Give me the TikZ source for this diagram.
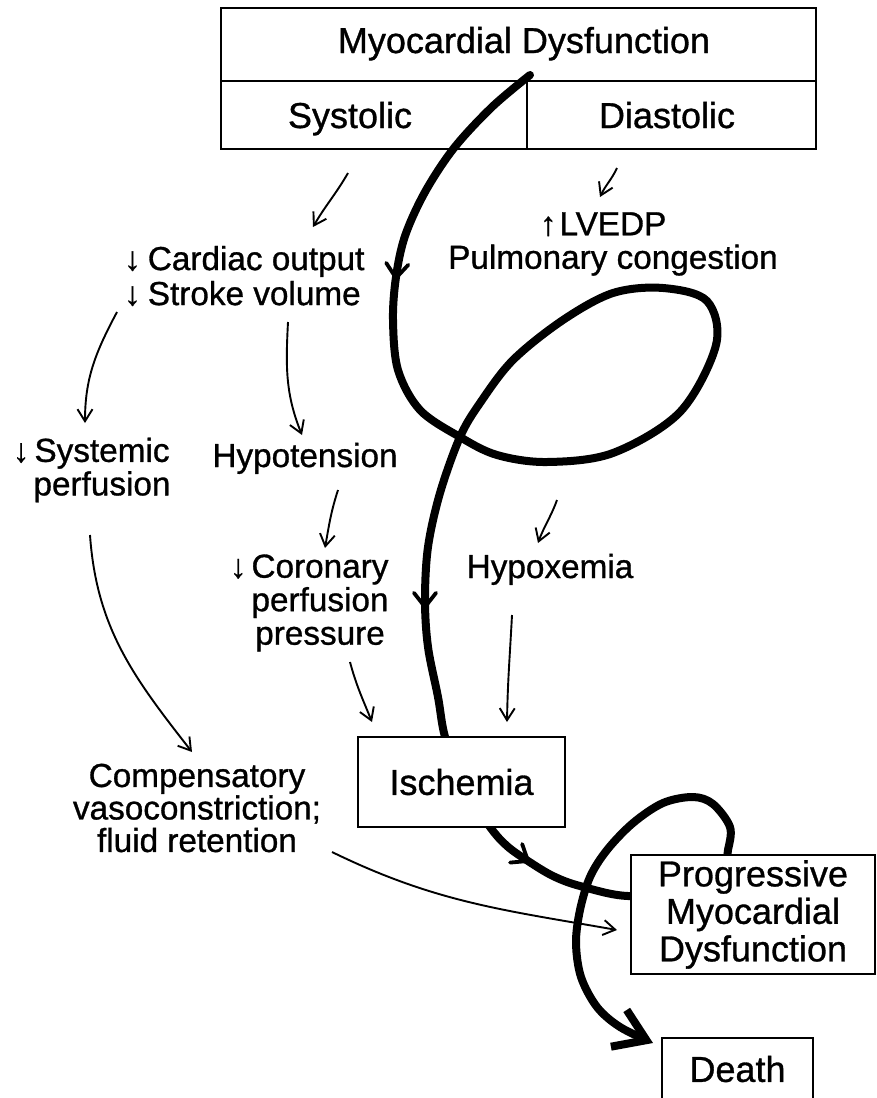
\documentclass[tikz,border=0pt]{standalone}
\usepackage{fontspec}
\setmainfont{Liberation Sans}[FakeBold=0.9]
\usetikzlibrary{arrows.meta}
\begin{document}
\begin{tikzpicture}[x=1pt,y=1pt,
  boxline/.style={line width=2.2pt},
  boxst/.style={draw, line width=2.2pt, inner sep=0pt, fill=white, align=center,
    font=\fontsize{36}{37.5}\selectfont},
  boxtext/.style={inner sep=0pt, font=\fontsize{36}{37.5}\selectfont},
  body/.style={inner sep=0pt, align=center, font=\fontsize{33.3}{33.5}\selectfont},
  thinarr/.style={line width=1.9pt, -{Straight Barb[length=12pt,width=15pt]}},
  spiral/.style={line width=8pt, line cap=round, line join=round,
    -{Straight Barb[length=30pt,width=40pt]}},
  chev/.style={line width=3.8pt, line cap=round, line join=round}]
\useasboundingbox (0,0) rectangle (876,-1098);

% top table
\node[draw, boxline, inner sep=0pt, minimum width=595pt, minimum height=141pt,
      anchor=north west] (mdbox) at (220,-7) {};
\coordinate (midL) at (220,-81);
\coordinate (midR) at (815,-81);
\coordinate (divT) at (527,-81);
\draw[boxline] (midL) -- (midR);
\draw[boxline] (divT) -- (divT |- mdbox.south);
\node[boxtext, anchor=base] (md) at (524,-53) {Myocardial Dysfunction};
\node[boxtext, anchor=base] (sys) at (350,-128) {Systolic};
\node[boxtext, anchor=base] (dia) at (667,-128) {Diastolic};

% thick spiral
\draw[spiral] plot[smooth, tension=0.55] coordinates {
 (530,-75) (492,-107) (454,-148) (425,-192) (405,-236) (396,-277) (393,-320)
 (398,-370) (420,-410) (460,-437) (497,-455) (547,-462) (613,-453) (680,-412)
 (716,-345) (707,-301) (663,-288) (613,-293) (563,-320) (513,-360) (480,-403)
 (460,-437) (440,-493) (428,-547) (425,-600) (428,-647) (438,-697) (445,-737)
 (462,-785) (490,-827) (507,-846) (528,-861) (553,-876) (580,-886) (628,-896)
 (690,-890) (722,-870) (728,-850) (730,-827) (713,-804) (693,-797) (663,-803)
 (633,-823) (607,-850) (590,-877) (580,-910) (576,-943) (581,-977) (597,-1007)
 (620,-1027) (653,-1043)};

% chevrons on the spiral
\coordinate (ch1) at (396,-278);
\coordinate (ch2) at (425,-607);
\coordinate (ch3) at (528,-861);
\draw[chev] (ch1) ++(85+38:18) -- (ch1) -- ++(85-38:18);
\draw[chev] (ch2) ++(90+38:18) -- (ch2) -- ++(90-38:18);
\draw[chev] (ch3) ++(147+38:18) -- (ch3) -- ++(147-38:18);

% boxes
\node[boxst, minimum width=207pt, minimum height=90pt] (isc) at (461.5,-782) {Ischemia};
\node[boxst, minimum width=244pt, minimum height=119pt] (pmd) at (753,-914.5)
  {Progressive\\Myocardial\\Dysfunction};
\node[boxst, minimum width=151pt, minimum height=62pt] (death) at (737.5,-1069) {Death};

% text blocks
\node[body, align=left, anchor=west, font=\fontsize{33.3}{35}\selectfont] (co) at (124,-276)
  {↓\hspace{7pt}Cardiac output\\↓\hspace{7pt}Stroke volume};
\node[body] (lv) at (613,-244) {\llap{↑\hspace{3pt}}LVEDP\\Pulmonary congestion};
\node[body] (sp) at (102,-470) {\llap{↓\hspace{5pt}}Systemic\\perfusion};
\node[body, anchor=base] (hyt) at (305,-467) {Hypotension};
\node[body] (cor) at (320,-603) {\llap{↓\hspace{5pt}}Coronary\\perfusion\\pressure};
\node[body, anchor=base] (hyx) at (550,-578) {Hypoxemia};
\node[body, font=\fontsize{33.3}{32.5}\selectfont] (comp) at (197,-808)
  {Compensatory\\vasoconstriction;\\fluid retention};

% thin arrows
\coordinate (a1s) at (348,-173); \coordinate (a1e) at (313,-227);
\coordinate (a2s) at (617,-168); \coordinate (a2e) at (600,-197);
\coordinate (a3s) at (117,-312); \coordinate (a3e) at (85,-423);
\coordinate (a4s) at (288,-322); \coordinate (a4e) at (302,-435);
\coordinate (a5s) at (338,-490); \coordinate (a5e) at (325,-548);
\coordinate (a6s) at (90,-535);  \coordinate (a6e) at (192,-752);
\coordinate (a7s) at (350,-662); \coordinate (a7e) at (372,-722);
\coordinate (a8s) at (557,-500); \coordinate (a8e) at (538,-543);
\coordinate (a9s) at (512,-615); \coordinate (a9e) at (507,-722);
\coordinate (a10s) at (332,-852); \coordinate (a10e) at (617,-930);

\draw[thinarr] (a1s) to[out=-120,in=60] (a1e);
\draw[thinarr] (a2s) to[out=-115,in=65] (a2e);
\draw[thinarr] (a3s) to[out=-118,in=90] (a3e);
\draw[thinarr] (a4s) to[out=-93,in=112] (a4e);
\draw[thinarr] (a5s) to[out=-108,in=80] (a5e);
\draw[thinarr] (a6s) to[out=-86,in=128] (a6e);
\draw[thinarr] (a7s) to[out=-75,in=112] (a7e);
\draw[thinarr] (a8s) to[out=-110,in=70] (a8e);
\draw[thinarr] (a9s) to[out=-93,in=89] (a9e);
\draw[thinarr] (a10s) to[out=-26,in=170] (a10e);
\end{tikzpicture}
\end{document}
